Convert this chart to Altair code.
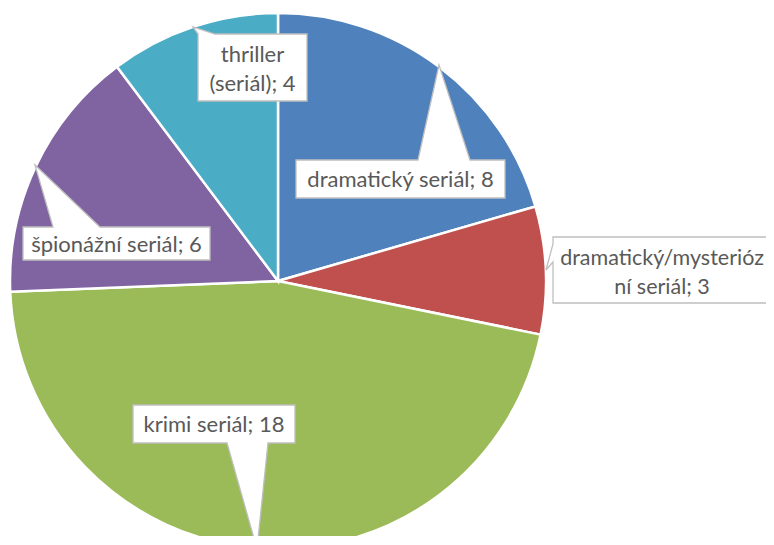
import altair as alt
import pandas as pd

# ---- data ----
categories = ["dramatický seriál", "dramatický/mysteriózní seriál", "krimi seriál",
              "špionážní seriál", "thriller (seriál)"]
values = [8, 3, 18, 6, 4]
label_lines = [["dramatický seriál; 8"],
               ["dramatický/mysterióz", "ní seriál; 3"],
               ["krimi seriál; 18"],
               ["špionážní seriál; 6"],
               ["thriller", "(seriál); 4"]]
colors = ["#4F81BD", "#C0504D", "#9BBB59", "#8064A2", "#4BACC6"]

# ---- layout (page pixels; page margin 8) ----
M = 8
W, H = 758, 528
CX, CY, R = 278 - M, 281 - M, 268
LH = 29
callouts = [
    dict(box=(296, 160, 505, 198), tip=(439, 65), edge="top", base=(418, 470), dx=0, dy=1, fs=22),
    dict(box=(553, 237, 787, 303), tip=(546, 270), edge="left", base=(244, 262), dx=-8, dy=3, fs=21.5),
    dict(box=(133, 405, 295, 443), tip=(257, 549), edge="bottom", base=(227, 268), dx=0, dy=1, fs=22),
    dict(box=(23, 227, 210, 260), tip=(35, 165), edge="top", base=(53, 100), dx=0, dy=1, fs=22),
    dict(box=(198, 34, 307, 101), tip=(193, 27), edge="top", base=(198, 215), dx=0, dy=2, fs=22),
]


def callout_path(c):
    x0, y0, x1, y1 = c["box"]
    cx, cy = (x0 + x1) / 2, (y0 + y1) / 2
    tx, ty = c["tip"]
    b0, b1 = c["base"]
    pts = [(x0, y0)]
    if c["edge"] == "top":
        pts += [(b0, y0), (tx, ty), (b1, y0)]
    pts += [(x1, y0), (x1, y1)]
    if c["edge"] == "bottom":
        pts += [(b1, y1), (tx, ty), (b0, y1)]
    pts += [(x0, y1)]
    if c["edge"] == "left":
        pts += [(x0, b1), (tx, ty), (x0, b0)]
    d = "M" + " L".join(f"{px - cx:.1f},{py - cy:.1f}" for px, py in pts) + " Z"
    return d, cx - M, cy - M


rows = []
for i, (cat, val, lines, c) in enumerate(zip(categories, values, label_lines, callouts)):
    d, bx, by = callout_path(c)
    ty = by + c["dy"] - (len(lines) - 1) * LH / 2
    rows.append(dict(idx=i, category=cat, value=val, label=lines, path=d,
                     bx=bx, by=by, tx=bx + c["dx"], ty=ty, fs=c["fs"]))
df = pd.DataFrame(rows)

base = alt.Chart(df)

pie = base.mark_arc(outerRadius=R, stroke="white", strokeWidth=2.5).encode(
    theta=alt.Theta("value:Q", stack=True),
    color=alt.Color("category:N", scale=alt.Scale(domain=categories, range=colors), legend=None),
    order=alt.Order("idx:Q"),
    x=alt.value(CX),
    y=alt.value(CY),
)

boxes = base.mark_point(filled=True, fill="white", stroke="#BFBFBF", strokeWidth=1.3,
                        opacity=1, fillOpacity=1, size=4).encode(
    x=alt.X("bx:Q", scale=None, axis=None),
    y=alt.Y("by:Q", scale=None, axis=None),
    shape=alt.Shape("path:N", scale=None),
)

texts = base.mark_text(font="Lato", color="#595959", align="center",
                       baseline="middle", lineHeight=LH).encode(
    x=alt.X("tx:Q", scale=None, axis=None),
    y=alt.Y("ty:Q", scale=None, axis=None),
    size=alt.Size("fs:Q", scale=None, legend=None),
    text="label",
)

chart = alt.layer(pie, boxes, texts).properties(
    width=W, height=H, autosize=alt.AutoSizeParams(type="none"), padding=0, background="white"
).configure_view(stroke=None)

chart.save("out.html", embed_options={"renderer": "svg", "actions": False})
